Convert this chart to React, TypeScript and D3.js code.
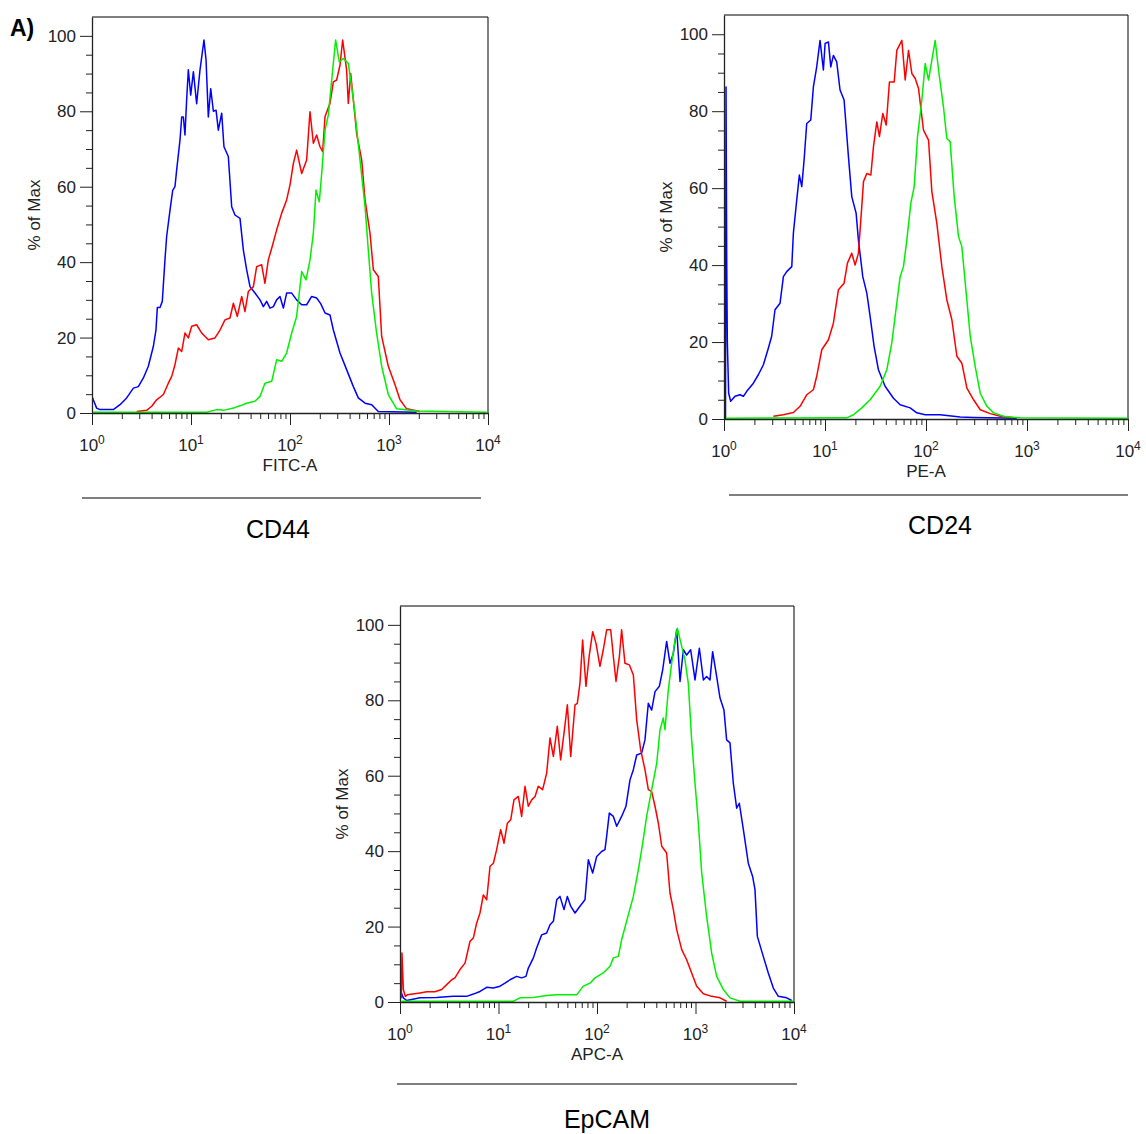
import React, { useEffect, useRef } from 'react';
import * as d3 from 'd3';

const FONT = '"Liberation Sans", Arial, Helvetica, sans-serif';

// each point: [log10 fluorescence intensity, % of max]
type Pt = [number, number];

const decades = [0, 1, 2, 3, 4];
const yMajor = [0, 20, 40, 60, 80, 100];
const yMinor = d3.range(5, 105, 5).filter((v) => v % 20 !== 0);
const xMinor = d3.range(0, 4).flatMap((k) => d3.range(2, 10).map((m) => m * 10 ** k));

// CD44 / FITC-A
const cd44Blue: Pt[] = [
  [0.008, 4], [0.013, 3.5], [0.047, 1.3], [0.081, 0.9], [0.215, 0.9], [0.283, 2.2], [0.35, 4], [0.418, 6.6],
  [0.468, 7], [0.519, 9.3], [0.569, 12.4], [0.62, 17.7], [0.646, 22], [0.66, 28], [0.687, 28], [0.71, 29.6],
  [0.737, 40.6], [0.754, 46.8], [0.788, 53.8], [0.815, 59], [0.838, 60], [0.855, 64.4], [0.889, 72.4],
  [0.906, 78.5], [0.923, 78.5], [0.939, 73.7], [0.956, 83], [0.973, 91], [0.997, 84.3], [1.024, 90.5],
  [1.057, 82], [1.091, 91], [1.131, 98.9], [1.152, 93.6], [1.175, 78.5], [1.199, 86], [1.226, 80], [1.253, 80.3],
  [1.276, 75], [1.31, 79.5], [1.333, 70.6], [1.377, 68], [1.411, 54.7], [1.444, 52.5], [1.495, 51.6],
  [1.529, 43.2], [1.562, 38], [1.596, 33.5], [1.646, 31.8], [1.697, 30], [1.731, 28.2], [1.764, 29.6],
  [1.798, 27.8], [1.832, 28.2], [1.865, 30], [1.899, 30.9], [1.933, 27.8], [1.966, 31.8], [2.017, 31.8],
  [2.067, 30], [2.118, 28.7], [2.168, 28.7], [2.219, 30.9], [2.269, 30.5], [2.31, 29], [2.354, 26.5],
  [2.404, 26], [2.438, 22], [2.505, 15.9], [2.572, 11.5], [2.64, 7], [2.69, 4], [2.758, 2.6], [2.825, 2.2],
  [2.892, 0.4], [3.279, 0.2],
];
const cd44Red: Pt[] = [
  [0.451, 0.4], [0.552, 0.7], [0.603, 1.8], [0.653, 3.5], [0.721, 4.9], [0.771, 7.9], [0.805, 9.7],
  [0.838, 12.8], [0.872, 17.2], [0.906, 16.3], [0.939, 21.2], [0.973, 19.9], [1.007, 23], [1.057, 23.4],
  [1.108, 21.2], [1.175, 19.4], [1.242, 19.9], [1.293, 22], [1.343, 24.7], [1.394, 25.2], [1.428, 29.1],
  [1.468, 25.6], [1.512, 30.9], [1.545, 26.9], [1.579, 32.2], [1.63, 33.5], [1.663, 38.8], [1.714, 39.3],
  [1.747, 34.4], [1.781, 40.6], [1.815, 43.7], [1.865, 48.5], [1.916, 53], [1.966, 56.5], [2.0, 60.5],
  [2.034, 66.2], [2.067, 69.7], [2.118, 63.5], [2.168, 67.1], [2.202, 79.9], [2.236, 71.5], [2.269, 73.7],
  [2.303, 70.6], [2.33, 69.3], [2.354, 78.6], [2.404, 82.1], [2.438, 87.8], [2.471, 88.3], [2.505, 92.2],
  [2.532, 98.9], [2.572, 90.9], [2.589, 82.1], [2.613, 90], [2.64, 83], [2.673, 74.1], [2.724, 67.1],
  [2.758, 56.5], [2.808, 47.7], [2.842, 38], [2.892, 36.2], [2.926, 20.3], [2.993, 12.4], [3.061, 7.5],
  [3.111, 3.5], [3.178, 1.1], [3.313, 0.4],
];
const cd44Green: Pt[] = [
  [0.013, 0.2], [1.158, 0.2], [1.259, 0.9], [1.327, 0.7], [1.428, 1.3], [1.495, 1.9], [1.562, 2.6],
  [1.646, 3.1], [1.697, 4.4], [1.747, 7.9], [1.815, 8.4], [1.865, 14.1], [1.916, 13.7], [1.966, 15.9],
  [2.017, 21.2], [2.067, 25.6], [2.118, 37.5], [2.162, 35.3], [2.202, 40.6], [2.236, 47.7], [2.263, 59.1],
  [2.296, 56], [2.32, 63.5], [2.354, 75], [2.387, 79], [2.424, 89.1], [2.461, 98.9], [2.498, 93.1],
  [2.539, 94], [2.589, 92.7], [2.623, 86.5], [2.657, 79.4], [2.707, 67.1], [2.758, 54.7], [2.791, 43.2],
  [2.825, 31.8], [2.875, 21.2], [2.926, 12.4], [2.993, 4.9], [3.077, 1.1], [3.279, 0.5], [3.987, 0.2],
];

// CD24 / PE-A
const cd24Blue: Pt[] = [
  [0.015, 0], [0.02, 86.3], [0.027, 40], [0.033, 20], [0.046, 6.7], [0.066, 4.6], [0.109, 5.9], [0.159, 6.3],
  [0.192, 5.9], [0.225, 7.2], [0.291, 9.3], [0.34, 11.5], [0.39, 14.1], [0.439, 18.4], [0.472, 21.5],
  [0.505, 28.4], [0.555, 30.1], [0.588, 37], [0.621, 38.3], [0.671, 39.6], [0.687, 48.3], [0.72, 56.9],
  [0.746, 63.4], [0.77, 60.4], [0.793, 67.3], [0.819, 76.8], [0.859, 77.7], [0.885, 86.3], [0.918, 91.5],
  [0.951, 98.4], [0.984, 90.7], [1.001, 97.6], [1.034, 98], [1.057, 91.5], [1.083, 94.5], [1.116, 92.8],
  [1.149, 85.5], [1.189, 82.9], [1.232, 68.2], [1.265, 57.8], [1.308, 53.5], [1.331, 46.5], [1.374, 37],
  [1.414, 32.7], [1.447, 26.6], [1.486, 18.9], [1.529, 12.8], [1.595, 8.5], [1.678, 5.4], [1.744, 3.7],
  [1.843, 2.9], [1.909, 1.6], [1.992, 1.1], [2.14, 1.1], [2.339, 0.5], [2.471, 0.4], [2.9, 0.2],
];
const cd24Red: Pt[] = [
  [0.489, 0.7], [0.588, 1.1], [0.687, 1.7], [0.753, 3.3], [0.819, 6.3], [0.885, 7.6], [0.918, 11.1],
  [0.968, 18], [1.034, 20.6], [1.083, 24.9], [1.133, 33.6], [1.189, 35.3], [1.222, 40.5], [1.265, 43.1],
  [1.298, 40], [1.331, 43.1], [1.364, 55.2], [1.381, 61.7], [1.414, 63.8], [1.454, 63.4], [1.48, 70.8],
  [1.513, 77.2], [1.539, 73.4], [1.572, 79.4], [1.606, 76.4], [1.638, 87.6], [1.685, 87.6], [1.711, 95.8],
  [1.761, 98.4], [1.794, 88.1], [1.827, 95.8], [1.86, 89.8], [1.893, 88.5], [1.926, 85.9], [1.975, 75.1],
  [2.025, 72.5], [2.058, 59.1], [2.107, 50.9], [2.157, 39.6], [2.206, 31], [2.256, 25.8], [2.306, 16.3],
  [2.355, 14.5], [2.405, 8], [2.471, 5], [2.537, 2.4], [2.636, 1.4], [2.735, 0.7], [2.867, 0.3],
];
const cd24Green: Pt[] = [
  [0.02, 0.2], [1.215, 0.3], [1.282, 1.1], [1.364, 2.9], [1.447, 5], [1.546, 8.5], [1.612, 12.8],
  [1.661, 19.7], [1.694, 26.6], [1.744, 37], [1.777, 39.6], [1.81, 46.5], [1.85, 56.1], [1.883, 60.4],
  [1.916, 73.4], [1.959, 82.9], [1.992, 92.4], [2.025, 88.1], [2.058, 93.3], [2.091, 98.4], [2.124, 90.7],
  [2.173, 81.1], [2.206, 72.9], [2.239, 72.1], [2.279, 57.8], [2.322, 47.4], [2.355, 44.8], [2.398, 32.7],
  [2.438, 21.5], [2.487, 13.7], [2.537, 6.7], [2.603, 3.3], [2.669, 1.6], [2.768, 0.7], [2.933, 0.3],
  [4.0, 0.2],
];

// EpCAM / APC-A
const epcamBlue: Pt[] = [
  [0.014, 2.4], [0.034, 1.1], [0.068, 0.4], [0.203, 1.1], [0.372, 1.2], [0.541, 1.5], [0.677, 1.5],
  [0.745, 2.1], [0.812, 2.8], [0.88, 3.9], [0.948, 3.7], [1.015, 4.2], [1.066, 5], [1.117, 5.9],
  [1.184, 6.8], [1.235, 6.4], [1.279, 6.8], [1.303, 9], [1.354, 11.7], [1.387, 14.3], [1.438, 17.8],
  [1.489, 18.3], [1.523, 20.5], [1.557, 21.4], [1.591, 27.1], [1.624, 28], [1.665, 24.5], [1.699, 28],
  [1.733, 25.4], [1.777, 23.6], [1.827, 25.4], [1.878, 27.1], [1.912, 37.7], [1.956, 34.2], [1.997, 38.6],
  [2.047, 39.9], [2.081, 40.4], [2.098, 43.9], [2.125, 50.1], [2.166, 49.2], [2.2, 46.6], [2.25, 49.2],
  [2.294, 51.9], [2.335, 58.9], [2.369, 61.6], [2.403, 65.5], [2.453, 66], [2.487, 69.5], [2.521, 79.2],
  [2.555, 77.4], [2.589, 82.3], [2.633, 83.7], [2.667, 88.1], [2.707, 95.6], [2.741, 89.8], [2.775, 92.4],
  [2.809, 98.7], [2.843, 85], [2.877, 93.4], [2.91, 92], [2.951, 93.4], [2.995, 85.4], [3.039, 93.8],
  [3.08, 85.4], [3.113, 86.3], [3.147, 85.4], [3.174, 92.9], [3.215, 86.3], [3.249, 80.6], [3.289, 77.4],
  [3.316, 69.5], [3.35, 68.7], [3.384, 58], [3.418, 51.4], [3.445, 52.7], [3.486, 45.7], [3.536, 36.8],
  [3.58, 33.3], [3.604, 29.8], [3.628, 17.4], [3.688, 12.1], [3.739, 7.7], [3.79, 3.7], [3.841, 1.5],
  [3.926, 1.1], [3.976, 0.4],
];
const epcamRed: Pt[] = [
  [0.014, 1], [0.02, 13], [0.034, 3.3], [0.054, 1.5], [0.074, 1.9], [0.203, 2.4], [0.271, 2.7], [0.355, 2.7],
  [0.423, 3.3], [0.474, 4.6], [0.525, 5.9], [0.558, 6.4], [0.609, 8.6], [0.66, 10.3], [0.711, 16.1],
  [0.745, 17], [0.778, 20.9], [0.812, 23.6], [0.846, 28.4], [0.88, 27.1], [0.914, 36], [0.948, 36.8],
  [0.981, 40.4], [1.022, 45.7], [1.056, 42.1], [1.09, 47.4], [1.124, 48.3], [1.157, 53.6], [1.201, 54.5],
  [1.235, 49.2], [1.269, 57.2], [1.303, 51.9], [1.337, 53.6], [1.371, 54.5], [1.404, 57.2], [1.448, 56.3],
  [1.489, 60.7], [1.523, 70], [1.557, 65.1], [1.597, 73.1], [1.631, 64.2], [1.665, 71.3], [1.699, 78.8],
  [1.733, 65.1], [1.777, 78.8], [1.8, 79.2], [1.827, 84.5], [1.854, 96], [1.888, 83.7], [1.922, 92],
  [1.956, 98.2], [1.99, 95.1], [2.03, 89], [2.064, 93.4], [2.098, 98.7], [2.139, 98.7], [2.166, 91.6],
  [2.193, 85], [2.227, 91.6], [2.25, 98.7], [2.284, 89.8], [2.328, 89.4], [2.369, 86.7], [2.403, 74.8],
  [2.443, 66.9], [2.487, 61.6], [2.521, 56.3], [2.555, 55.8], [2.589, 51.9], [2.623, 47.4], [2.657, 41.3],
  [2.707, 39.5], [2.741, 28.9], [2.775, 24.5], [2.809, 19.2], [2.86, 13.9], [2.91, 11.2], [2.961, 7.7],
  [3.012, 4.2], [3.08, 2.2], [3.164, 1.5], [3.249, 1.1], [3.316, 0.2],
];
const epcamGreen: Pt[] = [
  [0.017, 0.2], [1.151, 0.2], [1.218, 1.1], [1.354, 1.2], [1.489, 1.7], [1.591, 1.9], [1.794, 1.9],
  [1.861, 4.2], [1.929, 5], [1.98, 6.4], [2.064, 7.7], [2.132, 9.5], [2.166, 11.7], [2.217, 12.1],
  [2.25, 16.5], [2.318, 23.1], [2.369, 28], [2.42, 35.1], [2.464, 42.1], [2.504, 49.2], [2.555, 56.3],
  [2.606, 63.3], [2.64, 72.2], [2.673, 75.3], [2.69, 72.2], [2.724, 82.8], [2.758, 89.8], [2.792, 96],
  [2.816, 99.1], [2.86, 94.3], [2.893, 90.7], [2.927, 84.5], [2.961, 69.5], [2.995, 58], [3.029, 47.4],
  [3.063, 34.2], [3.113, 22.7], [3.164, 13], [3.215, 6.8], [3.283, 3.3], [3.35, 1.1], [3.452, 0.2],
  [3.993, 0.2],
];

const BLUE = '#0000ff';
const RED = '#ff0000';
const GREEN = '#00f000';

const panels = [
  {
    id: 'cd44', channel: 'FITC-A', marker: 'CD44',
    left: 92, top: 17, width: 396, height: 396,
    rule: { x1: 82, x2: 481, y: 498 }, titleX: 278, titleY: 538,
    series: [{ data: cd44Blue, color: BLUE }, { data: cd44Red, color: RED }, { data: cd44Green, color: GREEN }],
  },
  {
    id: 'cd24', channel: 'PE-A', marker: 'CD24',
    left: 724, top: 15, width: 404, height: 404,
    rule: { x1: 729, x2: 1128, y: 495 }, titleX: 940, titleY: 534,
    series: [{ data: cd24Blue, color: BLUE }, { data: cd24Red, color: RED }, { data: cd24Green, color: GREEN }],
  },
  {
    id: 'epcam', channel: 'APC-A', marker: 'EpCAM',
    left: 400, top: 606, width: 394, height: 396,
    rule: { x1: 397, x2: 797, y: 1084 }, titleX: 607, titleY: 1128,
    series: [{ data: epcamBlue, color: BLUE }, { data: epcamRed, color: RED }, { data: epcamGreen, color: GREEN }],
  },
];

type PanelProps = (typeof panels)[number];

function Histogram(p: PanelProps) {
  const ref = useRef<SVGGElement>(null);

  useEffect(() => {
    const g = d3.select(ref.current);
    g.selectAll('*').remove();
    const { width, height } = p;

    const x = d3.scaleLog().domain([1, 1e4]).range([0, width]);
    const y = d3.scaleLinear().domain([0, 105]).range([height, 0]);

    g.append('clipPath').attr('id', `clip-${p.id}`)
      .append('rect').attr('width', width).attr('height', height);

    // top and right frame
    g.append('path')
      .attr('d', `M0,0H${width}V${height}`)
      .attr('fill', 'none').attr('stroke', '#000').attr('stroke-width', 1);

    // curves
    const line = d3.line<Pt>().x((d) => x(10 ** d[0])).y((d) => y(d[1]));
    const curves = g.append('g').attr('clip-path', `url(#clip-${p.id})`);
    p.series.forEach((s) => {
      curves.append('path').datum(s.data)
        .attr('d', line)
        .attr('fill', 'none')
        .attr('stroke', s.color)
        .attr('stroke-width', 1.5)
        .attr('stroke-linejoin', 'round');
    });

    // y axis
    const yAxis = g.append('g').attr('color', '#222')
      .call(d3.axisLeft(y).tickValues(yMajor).tickSize(12).tickSizeOuter(0).tickPadding(4));
    yAxis.selectAll('text').attr('font-family', FONT).attr('font-size', 17).attr('fill', '#222');
    yAxis.select('.domain').attr('stroke-width', 1.3);
    g.append('g').attr('color', '#222')
      .call(d3.axisLeft(y).tickValues(yMinor).tickSize(6).tickFormat(() => ''))
      .call((a) => a.select('.domain').remove());

    // x axis
    const xAxis = g.append('g').attr('color', '#222').attr('transform', `translate(0,${height})`)
      .call(d3.axisBottom(x).tickValues(decades.map((k) => 10 ** k)).tickSize(12).tickSizeOuter(0).tickFormat(() => ''));
    xAxis.select('.domain').attr('stroke-width', 1.3);
    g.append('g').attr('color', '#222').attr('transform', `translate(0,${height})`)
      .call(d3.axisBottom(x).tickValues(xMinor).tickSize(6).tickFormat(() => ''))
      .call((a) => a.select('.domain').remove());

    const labels = g.append('g').attr('font-family', FONT).attr('fill', '#222');
    decades.forEach((k) => {
      const t = labels.append('text')
        .attr('x', x(10 ** k)).attr('y', height + 38)
        .attr('text-anchor', 'middle').attr('font-size', 17);
      t.append('tspan').text('10');
      t.append('tspan').attr('dy', -7).attr('font-size', 12).text(String(k));
    });

    labels.append('text')
      .attr('x', width / 2).attr('y', height + 58)
      .attr('text-anchor', 'middle').attr('font-size', 17)
      .text(p.channel);

    labels.append('text')
      .attr('transform', `translate(-52,${height / 2}) rotate(-90)`)
      .attr('text-anchor', 'middle').attr('font-size', 17)
      .text('% of Max');
  }, [p]);

  return <g ref={ref} transform={`translate(${p.left},${p.top})`} />;
}

export default function App() {
  return (
    <svg width={1146} height={1134} style={{ position: 'absolute', left: 0, top: 0, background: '#fff' }}>
      <text x={10} y={36} fontFamily={FONT} fontWeight="bold" fontSize={23}>A)</text>
      {panels.map((p) => (
        <g key={p.id}>
          <Histogram {...p} />
          <line x1={p.rule.x1} x2={p.rule.x2} y1={p.rule.y} y2={p.rule.y} stroke="#000" strokeWidth={1.2} />
          <text x={p.titleX} y={p.titleY} textAnchor="middle" fontFamily={FONT} fontSize={25}>{p.marker}</text>
        </g>
      ))}
    </svg>
  );
}
